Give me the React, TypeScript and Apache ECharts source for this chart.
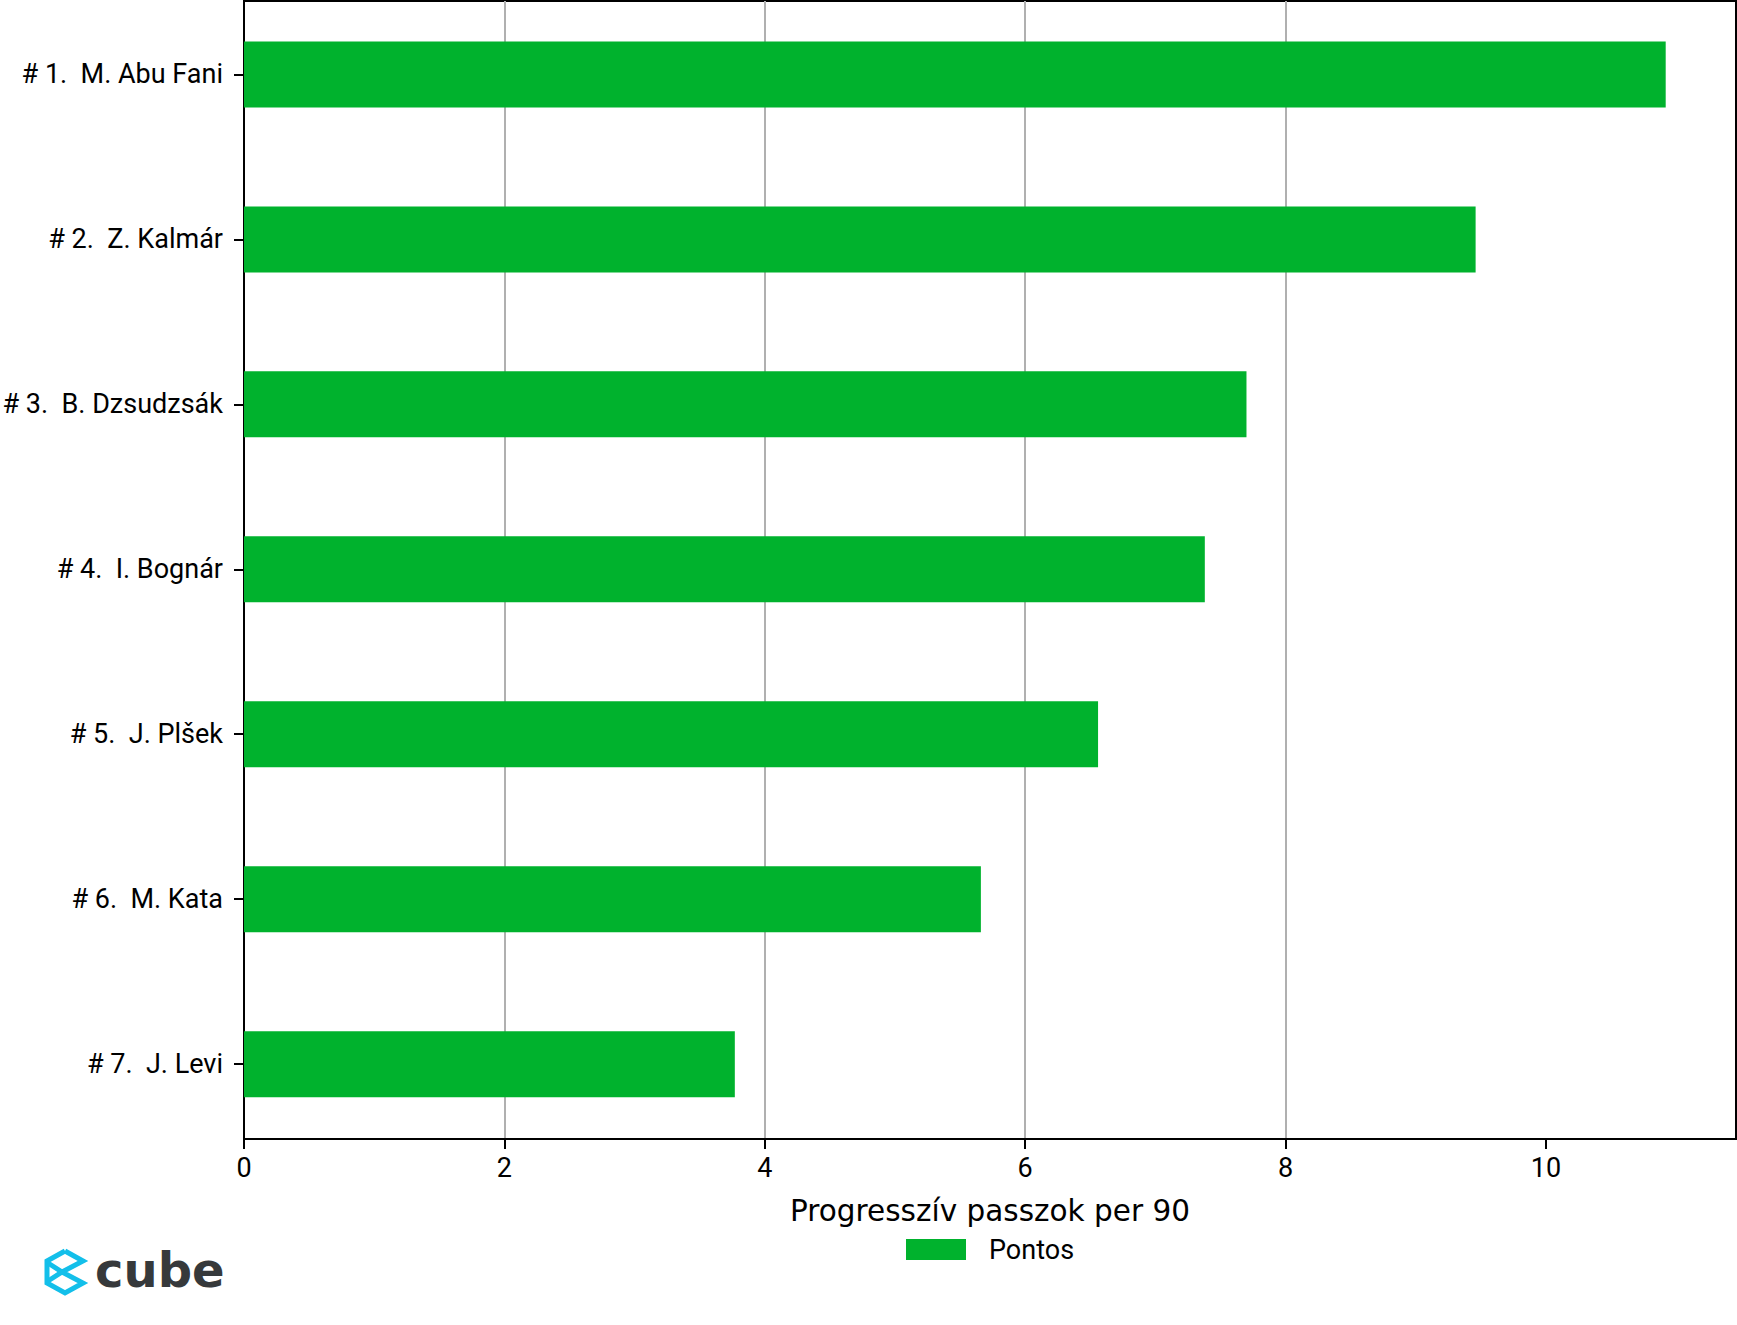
import React, { useEffect, useRef } from "react";
import * as echarts from "echarts";

const categories = [
  "# 1.  M. Abu Fani",
  "# 2.  Z. Kalmár",
  "# 3.  B. Dzsudzsák",
  "# 4.  I. Bognár",
  "# 5.  J. Plšek",
  "# 6.  M. Kata",
  "# 7.  J. Levi",
];
const values = [10.92, 9.46, 7.7, 7.38, 6.56, 5.66, 3.77];
const xTicks = [0, 2, 4, 6, 8, 10];
const seriesName = "Pontos";
const xTitle = "Progresszív passzok per 90";

const OFF = 20; // vertical offset of the chart canvas (div moved up by this much)

export default function App() {
  const ref = useRef<HTMLDivElement>(null);
  useEffect(() => {
    document.body.style.margin = "0";
    const chart = echarts.init(ref.current!, null, { renderer: "svg" });
    chart.setOption({
      animation: false,
      grid: [
        {
          left: 244,
          top: 1 + OFF,
          width: 1492,
          height: 1138,
          show: true,
          borderColor: "#000",
          borderWidth: 2,
          backgroundColor: "transparent",
          outerBoundsMode: "none",
          containLabel: false,
        },
        {
          left: 244,
          top: -8 + OFF,
          width: 1492,
          height: 1154.6,
          outerBoundsMode: "none",
          containLabel: false,
        },
      ],
      xAxis: [
        {
          gridIndex: 0,
          type: "value",
          min: 0,
          max: 11.46,
          interval: 2,
          axisLine: { show: true, lineStyle: { color: "#000", width: 2 } },
          axisTick: {
            show: true,
            length: 10,
            customValues: xTicks,
            lineStyle: { color: "#000", width: 2 },
          },
          axisLabel: {
            customValues: xTicks,
            fontSize: 27,
            fontFamily: "Roboto",
            color: "#000",
            margin: 15,
          },
          splitLine: {
            show: true,
            showMinLine: false,
            showMaxLine: false,
            lineStyle: { color: "#b0b0b0", width: 2 },
          },
          name: xTitle,
          nameLocation: "middle",
          nameGap: 57,
          nameTextStyle: { fontFamily: "DejaVu Sans", fontSize: 29.5, color: "#000" },
        },
        { gridIndex: 1, type: "value", min: 0, max: 11.46, show: false },
      ],
      yAxis: [
        { gridIndex: 0, type: "value", min: 0, max: 1, show: false },
        {
          gridIndex: 1,
          type: "category",
          data: categories,
          inverse: true,
          axisLine: { show: false },
          axisTick: {
            show: true,
            length: 10,
            alignWithLabel: true,
            lineStyle: { color: "#000", width: 2 },
          },
          axisLabel: { fontSize: 27, fontFamily: "Roboto", color: "#000", margin: 21 },
          splitLine: { show: false },
        },
      ],
      legend: {
        data: [seriesName],
        left: 906,
        top: 1236 + OFF,
        padding: 0,
        itemWidth: 60,
        itemHeight: 21,
        icon: "rect",
        textStyle: { fontFamily: "Roboto", fontSize: 27, color: "#000", padding: [0, 0, 0, 18] },
      },
      series: [
        {
          name: seriesName,
          type: "bar",
          xAxisIndex: 1,
          yAxisIndex: 1,
          data: values,
          barWidth: 66,
          itemStyle: { color: "#00b22d" },
        },
      ],
      graphic: [
        {
          type: "polyline",
          shape: {
            points: [
              [65, 1251 + OFF],
              [83, 1261 + OFF],
              [62, 1272 + OFF],
              [83, 1283 + OFF],
              [65, 1293 + OFF],
              [47, 1283 + OFF],
              [47, 1261 + OFF],
              [65, 1251 + OFF],
            ],
          },
          style: { stroke: "#13bfea", lineWidth: 5, fill: "none", lineJoin: "miter" },
        },
        {
          type: "polyline",
          shape: {
            points: [
              [48, 1263 + OFF],
              [62, 1272 + OFF],
              [48, 1281 + OFF],
            ],
          },
          style: { stroke: "#13bfea", lineWidth: 5, fill: "none" },
        },
        {
          type: "text",
          style: {
            x: 95,
            y: 1270 + OFF,
            text: "cube",
            fill: "#36393b",
            font: "bold 48px 'DejaVu Sans'",
            verticalAlign: "middle",
          },
        },
      ],
    });
    return () => chart.dispose();
  }, []);
  return (
    <div
      ref={ref}
      style={{ position: "absolute", left: 0, top: -OFF, width: 1737, height: 1325 + OFF }}
    />
  );
}
